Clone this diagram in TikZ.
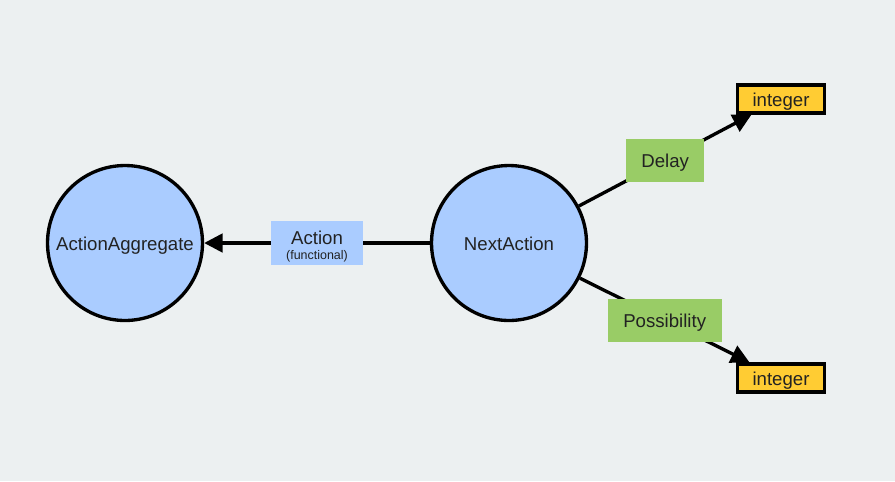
\documentclass[tikz,border=0pt]{standalone}
\usepackage{fontspec}
\setmainfont{Liberation Sans}
\usetikzlibrary{arrows.meta}
\definecolor{bgcol}{RGB}{236,240,241}
\definecolor{classblue}{RGB}{170,204,255}
\definecolor{propgreen}{RGB}{153,204,102}
\definecolor{dtyellow}{RGB}{255,204,51}
\definecolor{txtcol}{RGB}{34,34,34}
\begin{document}
\begin{tikzpicture}[x=0.02cm,y=-0.02cm,
font=\fontsize{10.6}{12}\selectfont,text=txtcol,
classnode/.style={draw,circle,line width=1.9pt,fill=classblue,minimum size=3.1cm,inner sep=0pt,text height=1em,text depth=0.2em},
dtbox/.style={draw,rectangle,line width=1.9pt,fill=dtyellow,minimum width=1.74cm,minimum height=0.56cm,inner sep=0pt,text height=1em,text depth=0.2em},
proplabel/.style={rectangle,fill=propgreen,minimum height=0.87cm,inner sep=0pt,text height=1em,text depth=0.2em},
edge/.style={line width=1.9pt,-{Triangle[length=10.5pt,width=10.5pt]}}]
\fill[bgcol] (0,0) rectangle (895,481);
\useasboundingbox (0,0) rectangle (895,481);
\node (aggr) [classnode] at (125,243) {ActionAggregate};
\node (next) [classnode] at (509,243) {NextAction};
\node (inttop) [dtbox] at (781,99) {integer};
\node (intbot) [dtbox] at (781,378) {integer};
\draw [edge] (next) -- node (actlbl) [rectangle,fill=classblue,minimum height=0.87cm,inner sep=0pt,minimum width=1.84cm,align=center]
    {\rule{0pt}{1.1em}Action\\[-3pt]{\fontsize{7.1}{8}\selectfont (functional)}} (aggr);
\draw [edge] (next) -- node (delaylbl) [proplabel,minimum width=1.56cm] {Delay} (inttop);
\draw [edge] (next) -- node (possiblbl) [proplabel,minimum width=2.28cm] {Possibility} (intbot);
\end{tikzpicture}
\end{document}
